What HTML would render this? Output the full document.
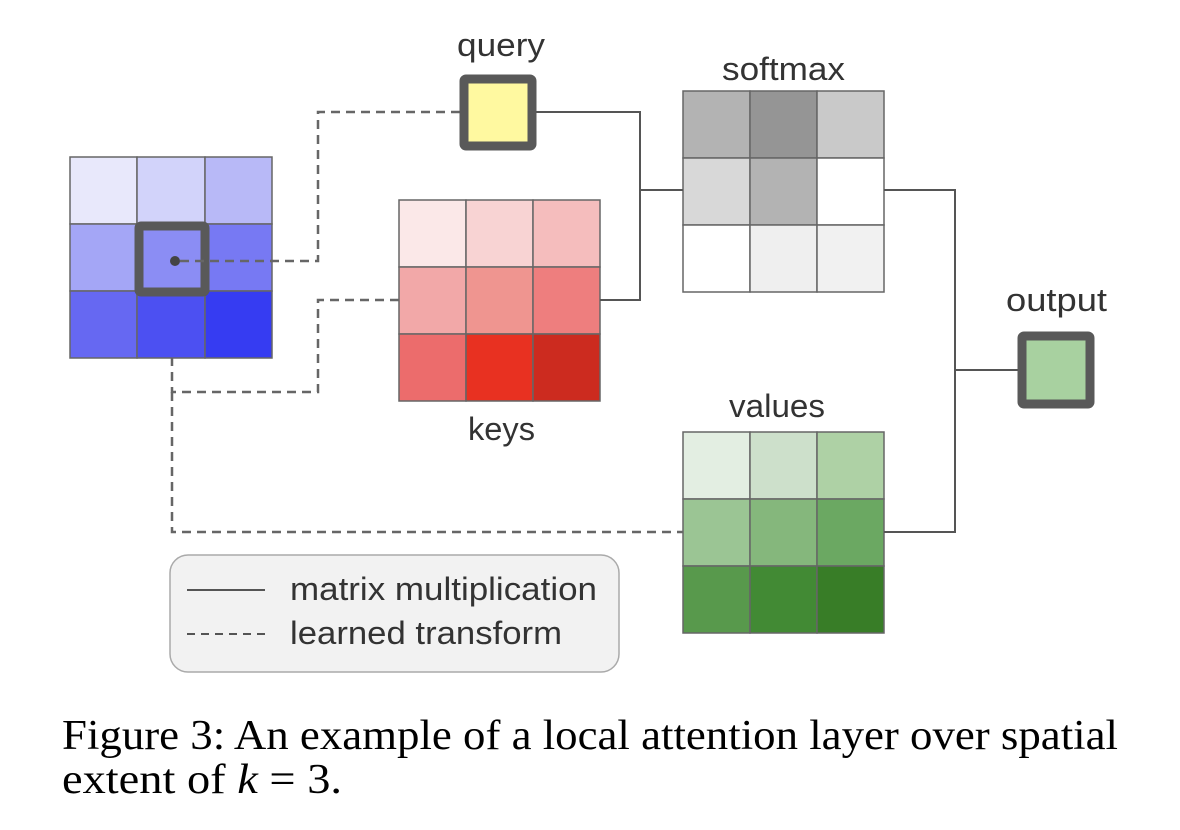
<!DOCTYPE html>
<html><head><meta charset="utf-8"><style>
html,body{margin:0;padding:0;background:#fff;width:1180px;height:830px;overflow:hidden}
svg{display:block}
</style></head><body>
<svg width="1180" height="830" viewBox="0 0 1180 830" xmlns="http://www.w3.org/2000/svg">
<g stroke="#666" stroke-width="1.5">
<rect x="70" y="157" width="67" height="67" fill="#e8e8fb"/>
<rect x="137" y="157" width="68" height="67" fill="#d2d3fa"/>
<rect x="205" y="157" width="67" height="67" fill="#b8b9f7"/>
<rect x="70" y="224" width="67" height="67" fill="#a4a6f6"/>
<rect x="137" y="224" width="68" height="67" fill="#8b8df4"/>
<rect x="205" y="224" width="67" height="67" fill="#7779f3"/>
<rect x="70" y="291" width="67" height="67" fill="#6668f2"/>
<rect x="137" y="291" width="68" height="67" fill="#4c50f2"/>
<rect x="205" y="291" width="67" height="67" fill="#363cf2"/>
<rect x="399" y="200" width="67" height="67" fill="#fbe8e8"/>
<rect x="466" y="200" width="67" height="67" fill="#f8d3d3"/>
<rect x="533" y="200" width="67" height="67" fill="#f5bdbd"/>
<rect x="399" y="267" width="67" height="67" fill="#f2a8a8"/>
<rect x="466" y="267" width="67" height="67" fill="#ef9590"/>
<rect x="533" y="267" width="67" height="67" fill="#ee7e7e"/>
<rect x="399" y="334" width="67" height="67" fill="#ec6c6c"/>
<rect x="466" y="334" width="67" height="67" fill="#e83121"/>
<rect x="533" y="334" width="67" height="67" fill="#cc2b1f"/>
<rect x="683" y="91" width="67" height="67" fill="#b3b3b3"/>
<rect x="750" y="91" width="67" height="67" fill="#959595"/>
<rect x="817" y="91" width="67" height="67" fill="#c9c9c9"/>
<rect x="683" y="158" width="67" height="67" fill="#d8d8d8"/>
<rect x="750" y="158" width="67" height="67" fill="#b3b3b3"/>
<rect x="817" y="158" width="67" height="67" fill="#ffffff"/>
<rect x="683" y="225" width="67" height="67" fill="#ffffff"/>
<rect x="750" y="225" width="67" height="67" fill="#efefef"/>
<rect x="817" y="225" width="67" height="67" fill="#f1f1f1"/>
<rect x="683" y="432" width="67" height="67" fill="#e3eee2"/>
<rect x="750" y="432" width="67" height="67" fill="#cde0cb"/>
<rect x="817" y="432" width="67" height="67" fill="#aed1a5"/>
<rect x="683" y="499" width="67" height="67" fill="#9bc594"/>
<rect x="750" y="499" width="67" height="67" fill="#85b77c"/>
<rect x="817" y="499" width="67" height="67" fill="#6ba862"/>
<rect x="683" y="566" width="67" height="67" fill="#58994c"/>
<rect x="750" y="566" width="67" height="67" fill="#428a34"/>
<rect x="817" y="566" width="67" height="67" fill="#387d27"/>
</g>
<rect x="139" y="226" width="66" height="66" fill="none" stroke="#595959" stroke-width="9" rx="2"/>
<circle cx="175" cy="261" r="5" fill="#444"/>
<g fill="none" stroke="#666" stroke-width="2.5" stroke-dasharray="9,6">
<path d="M180 261 H318 V112 H460"/>
<path d="M399 300 H318 V392 H172 V358"/>
<path d="M172 392 V532 H683"/>
</g>
<g fill="none" stroke="#555" stroke-width="2">
<path d="M536 112 H640 V300 H600"/>
<path d="M640 190 H683"/>
<path d="M884 190 H955 V532 H884"/>
<path d="M955 370 H1018"/>
</g>
<rect x="464" y="79" width="68" height="67" fill="#fff9a0" stroke="#595959" stroke-width="9" rx="2"/>
<rect x="1022" y="336" width="68" height="68" fill="#a8d1a0" stroke="#595959" stroke-width="9" rx="2"/>
<rect x="170" y="555" width="449" height="117" rx="18" fill="#f2f2f2" stroke="#aaa" stroke-width="1.5"/>
<line x1="187" y1="590" x2="265" y2="590" stroke="#555" stroke-width="2"/>
<line x1="187" y1="634" x2="265" y2="634" stroke="#555" stroke-width="2" stroke-dasharray="8,6"/>
<g font-family="Liberation Sans, sans-serif" fill="#333" font-size="32">
<text x="290" y="600" textLength="307" lengthAdjust="spacingAndGlyphs">matrix multiplication</text>
<text x="290" y="644" textLength="272" lengthAdjust="spacingAndGlyphs">learned transform</text>
<text x="457" y="56" textLength="88" lengthAdjust="spacingAndGlyphs">query</text>
<text x="468" y="440" textLength="67" lengthAdjust="spacingAndGlyphs">keys</text>
<text x="722" y="80" textLength="123" lengthAdjust="spacingAndGlyphs">softmax</text>
<text x="729" y="417" textLength="96" lengthAdjust="spacingAndGlyphs">values</text>
<text x="1006" y="311" textLength="101" lengthAdjust="spacingAndGlyphs">output</text>
</g>
<g font-family="Liberation Serif, serif" fill="#000" font-size="42">
<text x="62" y="749" textLength="1056" lengthAdjust="spacingAndGlyphs">Figure 3: An example of a local attention layer over spatial</text>
<text x="62" y="793" textLength="280" lengthAdjust="spacingAndGlyphs">extent of <tspan font-style="italic">k</tspan> = 3.</text>
</g>
</svg>
</body></html>
